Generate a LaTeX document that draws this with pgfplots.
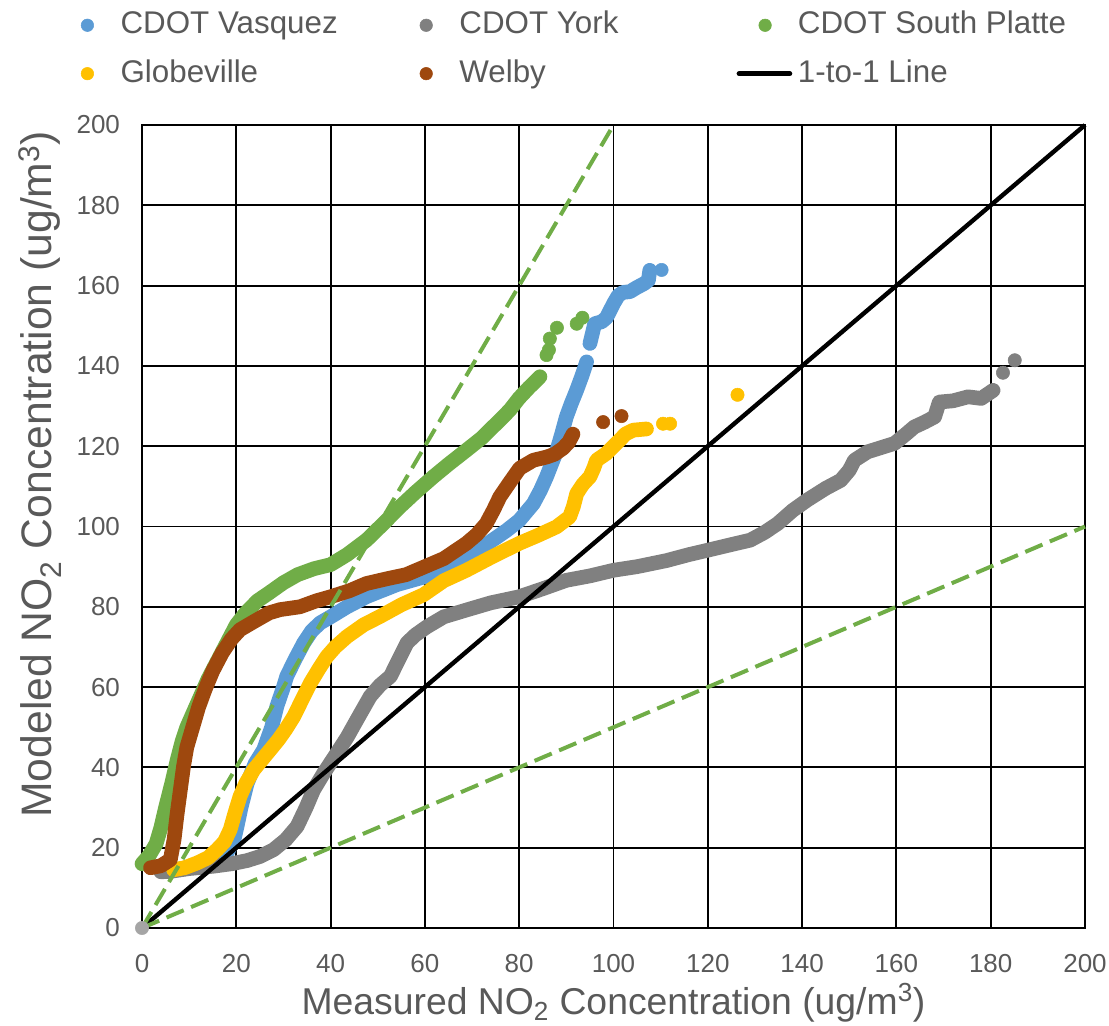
\documentclass[border=0pt]{standalone}
\usepackage{fontspec}
\setmainfont{Liberation Sans}
\usepackage{pgfplots}
\pgfplotsset{compat=1.18}
\definecolor{cblue}{HTML}{5B9BD5}
\definecolor{cgray}{HTML}{808080}
\definecolor{cgreen}{HTML}{70AD47}
\definecolor{cyellow}{HTML}{FFC000}
\definecolor{cbrown}{HTML}{9E480E}
\definecolor{textgray}{HTML}{595959}
\definecolor{lgray}{HTML}{A5A5A5}
\pgfplotsset{ser/.style={line width=11pt, line join=round, line cap=round, forget plot},
  out/.style={only marks, mark=*, mark size=5pt, forget plot},
  mk/.style={legend image code/.code={\fill[#1] (0pt,0pt) circle (4.7pt);}},
  ln/.style={legend image code/.code={\draw[black, line width=3.75pt, line cap=round] (-19.5pt,0pt) -- (18.5pt,0pt);}}}
\begin{document}
\begin{tikzpicture}
\useasboundingbox (-106.5pt,-72.75pt) rectangle (725.25pt,696pt);
\begin{axis}[
  scale only axis, width=707.25pt, height=602.25pt,
  xmin=0, xmax=200, ymin=0, ymax=200,
  xtick distance=20, ytick distance=20,
  grid=major, major grid style={black, line width=1.4pt},
  axis line style={black, line width=1.4pt},
  tick style={draw=none},
  /pgf/number format/assume math mode=true,
  ticklabel style={font=\fontsize{19.5}{23}\selectfont, text=textgray},
  xticklabel style={yshift=-16.5pt},
  yticklabel style={xshift=-13pt},
  xlabel={Measured NO\textsubscript{2} Concentration (ug/m\textsuperscript{3})},
  ylabel={Modeled NO\textsubscript{2} Concentration (ug/m\textsuperscript{3})},
  xlabel style={font=\fontsize{28}{32}\selectfont, text=textgray, at={(axis description cs:0.5,-0.1071)}, anchor=base},
  ylabel style={font=\fontsize{32}{36}\selectfont, text=textgray, at={(axis description cs:-0.0958,0.565)}, anchor=base},
  clip=false,
  legend columns=3,
  legend cell align=left,
  legend style={draw=none, fill=none, at={(rel axis cs:-0.0651,1.1432)}, anchor=north west,
    inner sep=0pt, column sep=0pt, row sep=13.8pt, font=\fontsize{23.5}{27}\selectfont, text=textgray,
    nodes={inner sep=0pt, text height=17.5pt, text depth=5pt}},
]
% CDOT Vasquez
\addplot[ser, cblue] coordinates {(7,14.5) (12,15.5) (16,17) (18,18.7) (19.5,22) (20.1,25) (21,30) (22.3,36) (24,41) (25.8,44.4) (27.5,50) (28.6,55.2) (30,60) (30.7,62.7) (32.5,67) (34.3,71) (36,74) (37.8,76) (40,77.5) (43.5,80) (47.6,82.5) (54,85.5) (60,87.5) (64,89.5) (68.8,92.4) (73,95.5) (77.3,99) (80,101.5) (83,105.7) (84.5,109) (85.8,112.4) (87,116) (88,119) (89,123) (90,127.3) (91,130.5) (92.2,134) (93.3,137.5) (94.3,141)};
\addplot[ser, cblue] coordinates {(95,145.6) (95.5,148) (96,150.5) (97.5,151) (98.5,152) (100,155.5) (101,157.5) (102,158.3) (103.5,158.5) (104.9,159.5) (106.5,160.5) (107.4,161.3) (107.7,163.8)};
\addplot[out, cblue] coordinates {(110.2,163.9)};
% CDOT York
\addplot[ser, cgray] coordinates {(4,14) (6,14.1) (10,14.8) (15.2,15.4) (19,16) (22.3,16.8) (25,17.8) (27.9,19.5) (30.5,22) (32.9,25.3) (34.8,30) (36.4,34.4) (38.5,38.5) (41.3,43.5) (43.5,47.5) (45.6,51.9) (48.4,57.7) (50.5,60.5) (52.7,62.7) (54.5,67) (56.2,71) (58,73) (60.4,75) (64,77.5) (68.8,79.2) (74,81) (80,82.5) (85,84.5) (90,86.6) (95,87.7) (100,89.1) (105,90) (111.2,91.5) (116,93) (120,94.1) (125,95.5) (129,96.6) (132,98.5) (134.8,100.7) (138,104) (141.1,106.6) (145,109.5) (148.2,111.5) (150,114) (151.1,116.5) (153.9,118.6) (159.6,120.7) (162,123) (163.8,124.8) (166,126) (168.1,127.3) (169.1,131) (172,131.3) (175.2,132.3) (178,131.9) (180.5,133.9)};
\addplot[out, cgray] coordinates {(182.6,138.3) (185.1,141.4)};
% CDOT South Platte
\addplot[ser, cgreen] coordinates {(0,16) (1.5,18) (3,21) (4,25) (5,30) (6.3,36) (7.5,42) (8.5,46.5) (9.5,50) (11,54) (12.5,58) (14,62) (16,66.5) (18,71) (20,75.5) (22,78.5) (24.5,81.5) (27,83.5) (30,86) (33,88) (36.5,89.5) (40,90.5) (43.5,93) (47.6,96.6) (51,100.5) (54.7,104.9) (58,108.5) (61.8,112.4) (65,115.5) (68.8,119) (72,122) (75.9,126.5) (78,129) (80,132) (82,134.5) (84.4,137.3)};
\addplot[out, cgreen] coordinates {(85.8,142.7) (86.3,144) (86.5,146.8) (88,149.5) (92.2,150.5) (93.4,152)};
% Globeville
\addplot[ser, cyellow] coordinates {(6.7,14.5) (9,15) (11.7,16.2) (14,17.5) (15.9,19.5) (17.5,21.5) (18.7,24.5) (19.8,29) (20.8,32.8) (22,36) (23.7,39.4) (25.5,42) (27.2,44.4) (29,47) (30.5,49.5) (32.2,52.7) (34,57) (35.7,61) (37.5,64.5) (39.2,67.6) (41,70) (43.5,72.6) (47,75.5) (50.5,77.6) (55,80.5) (59.7,83) (64,86.5) (68.8,89.1) (74,92.3) (80,95.8) (84,97.8) (87.9,99.9) (90.7,102.4) (91.5,105) (92.2,108.2) (93.5,110.5) (95,112.4) (95.8,114.5) (96.4,116.5) (98.5,118.2) (100,120) (101.3,121.5) (102.5,123) (104.2,124) (107,124.3)};
\addplot[out, cyellow] coordinates {(110.5,125.6) (112,125.6) (126.3,132.8)};
% Welby
\addplot[ser, cbrown] coordinates {(1.8,15) (4,15.5) (6,17) (6.8,22) (7.4,28) (8.2,35) (8.8,40.2) (9.5,45) (11,51) (12,55) (13.4,59.5) (15,64) (17,68.5) (19,72) (20.8,74.3) (24,76.5) (27,78.5) (29.3,79.3) (33.5,80) (37,81.5) (40,82.5) (44,84) (47.6,85.8) (52,87) (56,88) (60,90) (64,92) (68.8,95.8) (71,98) (73,100.7) (74.5,104) (75.9,107.4) (78,111) (80.1,114.5) (83,116.5) (85.8,117.3) (87.5,118) (89.3,119.5) (90.5,121) (91.4,123)};
\addplot[out, cbrown] coordinates {(97.8,126) (101.7,127.5)};
% origin point
\addplot[out, lgray] coordinates {(0,0)};
% 1-to-1 line
\addplot[black, line width=3.3pt, forget plot] coordinates {(0,0) (200,200)};
% dashed lines
\addplot[cgreen, line width=3pt, dash pattern=on 14pt off 6pt, forget plot] coordinates {(0,0) (100,200)};
\addplot[cgreen, line width=3pt, dash pattern=on 14pt off 6pt, forget plot] coordinates {(0,0) (200,100)};
% legend
\addlegendimage{mk=cblue}
\addlegendentry{\makebox[244.3pt][l]{\hspace*{20pt}CDOT Vasquez}}
\addlegendimage{mk=cgray}
\addlegendentry{\makebox[227.9pt][l]{\hspace*{20pt}CDOT York}}
\addlegendimage{mk=cgreen}
\addlegendentry{\hspace*{4.25pt}CDOT South Platte}
\addlegendimage{mk=cyellow}
\addlegendentry{\makebox[244.3pt][l]{\hspace*{20pt}Globeville}}
\addlegendimage{mk=cbrown}
\addlegendentry{\makebox[227.9pt][l]{\hspace*{20pt}Welby}}
\addlegendimage{ln}
\addlegendentry{\hspace*{4.25pt}1-to-1 Line}
\end{axis}
\end{tikzpicture}
\end{document}
